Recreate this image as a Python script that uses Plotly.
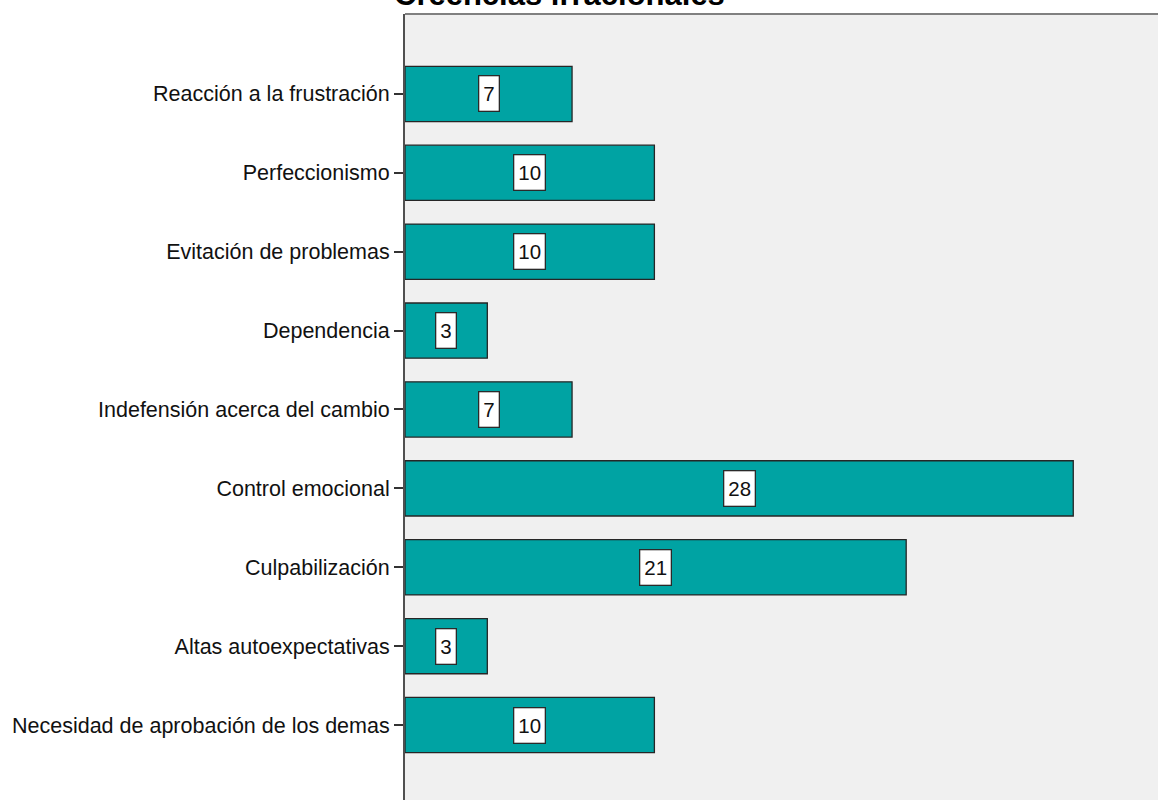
import plotly.graph_objects as go

categories = [
    "Reacción a la frustración",
    "Perfeccionismo",
    "Evitación de problemas",
    "Dependencia",
    "Indefensión acerca del cambio",
    "Control emocional",
    "Culpabilización",
    "Altas autoexpectativas",
    "Necesidad de aprobación de los demas",
]
percent = [6.9, 10.3, 10.3, 3.4, 6.9, 27.6, 20.7, 3.4, 10.3]
labels = ["7", "10", "10", "3", "7", "28", "21", "3", "10"]
title_text = "Creencias irracionales"

fig = go.Figure()
fig.add_trace(go.Bar(
    y=categories, x=percent, orientation="h", width=0.70,
    marker=dict(color="#00a3a3", line=dict(color="#262626", width=1.3)),
    hoverinfo="skip",
))

for c, v, t in zip(categories, percent, labels):
    fig.add_annotation(
        x=v / 2, y=c, xref="x", yref="y", text=t, showarrow=False,
        font=dict(family="Liberation Sans, Arial", size=20.5, color="#111"),
        bgcolor="white", bordercolor="#2a2a2a", borderwidth=1.3, borderpad=4,
        height=26,
    )

fig.add_annotation(
    x=(559 - 405) / 753, y=1, xref="paper", yref="paper", xanchor="center", yanchor="bottom",
    text="<b>" + title_text + "</b>", showarrow=False, yshift=0,
    font=dict(family="Liberation Sans, Arial", size=31, color="#000"),
)

fig.add_shape(type="line", xref="paper", yref="paper", x0=0, x1=1, y0=1, y1=1,
              line=dict(color="#808080", width=2))

fig.update_layout(
    width=1158, height=800,
    margin=dict(l=405, r=0, t=14, b=0),
    paper_bgcolor="white", plot_bgcolor="#f0f0f0",
    showlegend=False,
    xaxis=dict(range=[0, 31.1], showgrid=False, zeroline=False, showticklabels=False,
               showline=False, ticks=""),
    yaxis=dict(categoryorder="array", categoryarray=categories, range=[8.95, -1.013],
               showgrid=False, zeroline=False, showline=True, linecolor="#505050", linewidth=2,
               ticks="outside", ticklen=9, tickwidth=2, tickcolor="#333",
               tickfont=dict(family="Liberation Sans, Arial", size=21.5, color="#111")),
)

fig.write_html("out.html")
